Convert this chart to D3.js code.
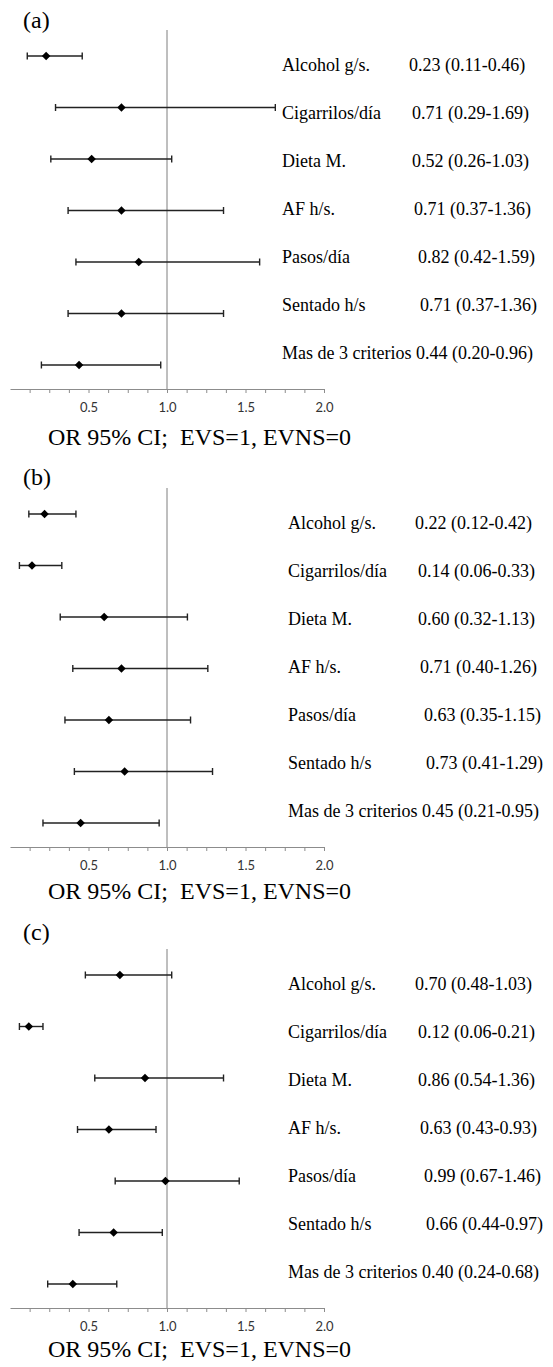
<!DOCTYPE html>
<html>
<head>
<meta charset="utf-8">
<script src="https://cdn.jsdelivr.net/npm/d3@7"></script>
<style>
  body { margin: 0; background: #fff; }
</style>
</head>
<body>
<script>
// row labels, same for all three panels
var categories = ['Alcohol g/s.', 'Cigarrilos/día', 'Dieta M.', 'AF h/s.', 'Pasos/día', 'Sentado h/s', 'Mas de 3 criterios'];
var panelNames = ['(a)', '(b)', '(c)'];
var tickLabels = ['0.5', '1.0', '1.5', '2.0'];
var axisTitle = 'OR 95% CI;  EVS=1, EVNS=0';

// odds ratios and 95% CI per panel
var orA = [0.23, 0.71, 0.52, 0.71, 0.82, 0.71, 0.44];
var loA = [0.11, 0.29, 0.26, 0.37, 0.42, 0.37, 0.20];
var hiA = [0.46, 1.69, 1.03, 1.36, 1.59, 1.36, 0.96];

var orB = [0.22, 0.14, 0.60, 0.71, 0.63, 0.73, 0.45];
var loB = [0.12, 0.06, 0.32, 0.40, 0.35, 0.41, 0.21];
var hiB = [0.42, 0.33, 1.13, 1.26, 1.15, 1.29, 0.95];

var orC = [0.70, 0.12, 0.86, 0.63, 0.99, 0.66, 0.40];
var loC = [0.48, 0.06, 0.54, 0.43, 0.67, 0.44, 0.24];
var hiC = [1.03, 0.21, 1.36, 0.93, 1.46, 0.97, 0.68];

var panels = [
  { name: panelNames[0], or: orA, lo: loA, hi: hiA },
  { name: panelNames[1], or: orB, lo: loB, hi: hiB },
  { name: panelNames[2], or: orC, lo: loC, hi: hiC }
];

// layout (not data)
var panelTop = [0, 458, 919];
var nameY = [28, 27, 21];
var titleY = [445, 441, 438];
var labelX = [282, 288, 288];
var valueOffset = [127, 130, 130, 132, 136, 138, null]; // null = just after label

var W = 553, H = 1367;
var serif = '"Liberation Serif", "Times New Roman", serif';

var svg = d3.select('body').append('svg')
  .attr('width', W)
  .attr('height', H);

var x = d3.scaleLinear().domain([0, 2]).range([10, 324]);
var yRow = d3.scalePoint().domain(categories).range([56, 365]);
var yText = d3.scalePoint().domain(categories).range([65, 353]);
var axisY = 389;

var fmt = function(v) { return v.toFixed(2); };

panels.forEach(function(p, pi) {
  var g = svg.append('g')
    .attr('transform', `translate(0, ${panelTop[pi]})`);

  // panel letter
  g.append('text')
    .attr('x', 23)
    .attr('y', nameY[pi])
    .style('font-family', serif)
    .style('font-size', '24px')
    .text(p.name);

  // reference line at OR = 1
  g.append('line')
    .attr('x1', x(1)).attr('x2', x(1))
    .attr('y1', 30).attr('y2', axisY)
    .attr('stroke', '#7f7f7f')
    .attr('stroke-width', 1);

  // x axis, minor ticks every 0.125
  var axis = d3.axisBottom(x)
    .tickValues(d3.range(1, 17).map(function(i) { return i * 0.125; }))
    .tickFormat(function(d) {
      var i = tickLabels.indexOf(d.toFixed(1));
      return (Math.abs(d * 2 - Math.round(d * 2)) < 1e-9 && i >= 0) ? tickLabels[i] : '';
    })
    .tickSize(4)
    .tickSizeOuter(0)
    .tickPadding(10);

  var ax = g.append('g')
    .attr('transform', `translate(0, ${axisY})`)
    .call(axis);
  ax.select('.domain').attr('stroke', '#8c8c8c');
  ax.selectAll('.tick line').attr('stroke', '#8c8c8c');
  ax.selectAll('.tick text')
    .style('font-family', 'Lato, "Open Sans", sans-serif')
    .style('font-size', '13px')
    .attr('fill', '#333');

  // axis title
  g.append('text')
    .attr('x', 48)
    .attr('y', titleY[pi])
    .style('font-family', serif)
    .style('font-size', '24px')
    .style('white-space', 'pre')
    .text(axisTitle);

  var rows = categories.map(function(c, i) {
    return { cat: c, or: p.or[i], lo: p.lo[i], hi: p.hi[i], i: i };
  });

  var bars = g.selectAll('.ci')
    .data(rows)
    .enter().append('g')
    .attr('class', 'ci');

  bars.append('line')
    .attr('x1', function(d) { return x(d.lo); })
    .attr('x2', function(d) { return x(d.hi); })
    .attr('y1', function(d) { return yRow(d.cat); })
    .attr('y2', function(d) { return yRow(d.cat); })
    .attr('stroke', '#222')
    .attr('stroke-width', 1.4);

  // caps
  ['lo', 'hi'].forEach(function(k) {
    bars.append('line')
      .attr('x1', function(d) { return x(d[k]); })
      .attr('x2', function(d) { return x(d[k]); })
      .attr('y1', function(d) { return yRow(d.cat) - 3.5; })
      .attr('y2', function(d) { return yRow(d.cat) + 3.5; })
      .attr('stroke', '#222')
      .attr('stroke-width', 1.4);
  });

  // diamonds
  bars.append('path')
    .attr('d', d3.symbol(d3.symbolSquare, 36))
    .attr('transform', function(d) { return `translate(${x(d.or)}, ${yRow(d.cat)}) rotate(45)`; })
    .attr('fill', '#000');

  // labels and values on the right
  var txt = g.selectAll('.lab')
    .data(rows)
    .enter().append('text')
    .attr('class', 'lab')
    .attr('x', labelX[pi])
    .attr('y', function(d) { return yText(d.cat) + 6; })
    .style('font-family', serif)
    .style('font-size', '18px')
    .attr('fill', '#000');

  txt.append('tspan')
    .text(function(d) { return d.cat; });

  txt.append('tspan')
    .attr('x', function(d) {
      return valueOffset[d.i] == null ? null : labelX[pi] + valueOffset[d.i];
    })
    .text(function(d) {
      var s = fmt(d.or) + ' (' + fmt(d.lo) + '-' + fmt(d.hi) + ')';
      return valueOffset[d.i] == null ? ' ' + s : s;
    })
    .style('white-space', 'pre');
});
</script>
</body>
</html>
